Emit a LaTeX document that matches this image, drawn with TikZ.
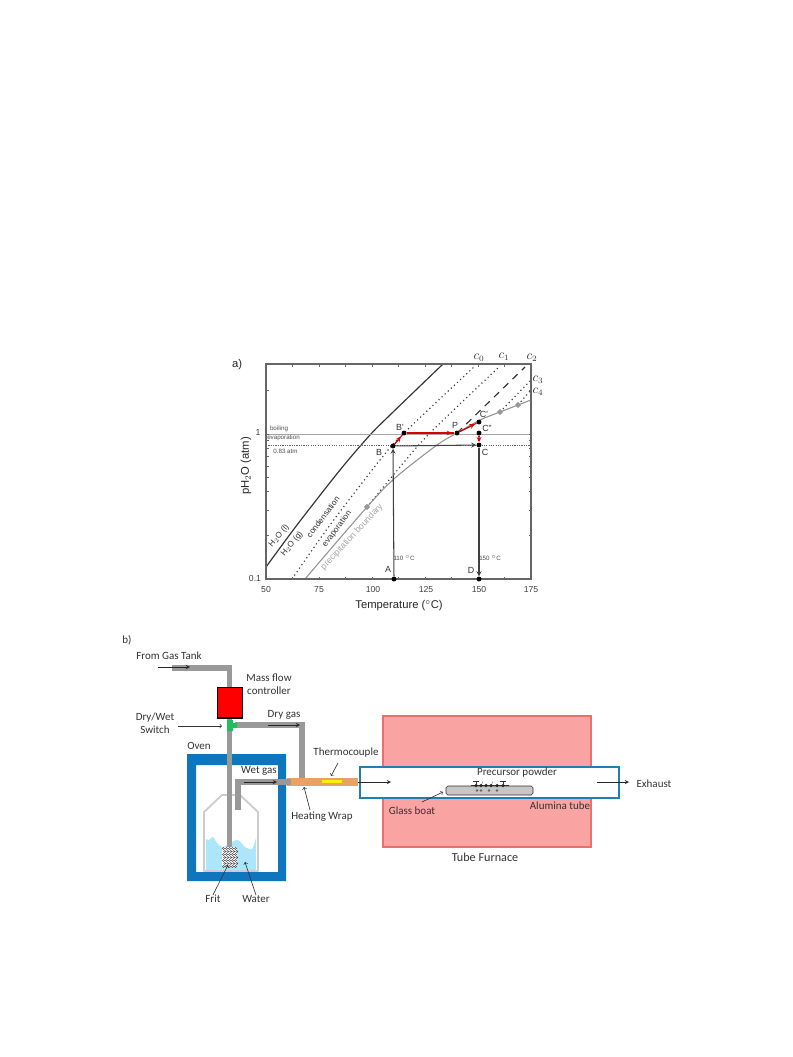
\documentclass[tikz,border=0pt]{standalone}
\usepackage{fontspec}
\setmainfont{Liberation Sans}
\newfontfamily\calibri{Carlito}
\usetikzlibrary{calc,shapes.geometric}
\definecolor{pipegray}{HTML}{999999}
\definecolor{framegray}{HTML}{666666}
\definecolor{ovenblue}{HTML}{0F75BC}
\definecolor{tubeblue}{HTML}{1F7FB0}
\definecolor{furnacefill}{HTML}{F9A3A3}
\definecolor{furnaceline}{HTML}{EE6E6E}
\definecolor{waterblue}{HTML}{ADE6FB}
\definecolor{wrapcolor}{HTML}{E8A266}
\definecolor{switchgreen}{HTML}{1FBF60}
\tikzset{
  dotpt/.style={circle, fill=black, inner sep=0pt, minimum size=4.2pt},
  graypt/.style={diamond, fill=gray!80, inner sep=0pt, minimum size=5.5pt},
  redline/.style={draw=red!85!black, line width=0.9pt},
  blackline/.style={draw=black!75, line width=0.9pt, ->, >=stealth},
  dotline/.style={line width=1pt, dash pattern=on 1pt off 2.6pt, black!75},
  pipe/.style={draw=pipegray, line width=4.4pt},
  ann/.style={font=\calibri\fontsize{9.4}{11}\selectfont, black!80, align=center, inner sep=0pt},
  chartlab/.style={font=\fontsize{5.3}{7}\selectfont, black!70, inner sep=0pt},
  ptlab/.style={font=\fontsize{7.6}{9}\selectfont, black!80, inner sep=0pt},
  ticklab/.style={font=\fontsize{7.4}{9}\selectfont, black!75, inner sep=0pt},
  titlelab/.style={font=\fontsize{9.6}{11}\selectfont, black!85, inner sep=0pt},
  curvelab/.style={font=\fontsize{7}{9}\selectfont, black!80, inner sep=0pt, rotate=53},
  callout/.style={->, draw=black!80, line width=0.55pt},
  flow/.style={->, >=stealth, draw=black!85, line width=0.6pt}
}
\begin{document}
\begin{tikzpicture}[x=0.03cm, y=-0.03cm]
  \def\Xl{266};
  \def\Xr{531};
  \def\Yt{364};
  \def\Yb{579};
  \def\Yone{434};
  \def\Dec{145};
  \useasboundingbox (0,0) rectangle (793,1057);
  \fill[white] (0,0) rectangle (793,1057);

  % chart curves
  \draw[line width=1pt, black!80] plot[smooth] coordinates {(\Xl,567) (297,525) (340,470) (370,435) (390,415) (443,\Yt)};
  \draw[dotline] plot[smooth] coordinates {(292,\Yb) (330,525) (380,460) (404,433) (475,366)};
  \draw[dotline] plot[smooth] coordinates {(367,507) (400,467) (430,433) (500,366)};
  \draw[line width=1pt, black!80, dash pattern=on 6pt off 5pt] (457,433) -- (525,367);
  \draw[dotline] (500,412) -- (530,381);
  \draw[dotline] (518,405) -- (530,391);
  \draw[gray!85, line width=0.9pt] plot[smooth] coordinates {(305,\Yb) (367,507) (395,478) (437,445) (457,433) (480,420) (500,412) (518,405) (\Xr,400)};

  % horizontal levels
  \draw[gray!70, line width=0.6pt] (\Xl,\Yone) -- (\Xr,\Yone);
  \draw[black!60, line width=0.4pt, dash pattern=on 1pt off 1pt] (\Xl,445) -- (\Xr,445);

  % frame and ticks
  \draw[framegray, line width=0.9pt] (\Xl,\Yt) rectangle (\Xr,\Yb);
  \foreach \t in {1,...,9} {
    \draw[framegray, line width=0.5pt] ({\Xl+\t*26.5},\Yb) -- ++(0,-2.5);
    \draw[framegray, line width=0.5pt] ({\Xl+\t*26.5},\Yt) -- ++(0,2.5);
  }
  \foreach \v in {0.2,0.3,0.4,0.5,0.6,0.7,0.8,0.9,1,2} {
    \pgfmathsetmacro{\Yv}{\Yone-\Dec*log10(\v)}
    \draw[framegray, line width=0.5pt] (\Xl,\Yv) -- ++(2.5,0);
    \draw[framegray, line width=0.5pt] (\Xr,\Yv) -- ++(-2.5,0);
  }

  % gray points on the boundary
  \node[graypt] (g1) at (367,507) {};
  \node[graypt] (g2) at (500,412) {};
  \node[graypt] (g3) at (518,405) {};

  % state points
  \node[dotpt] (A) at (394,\Yb) {};
  \node[dotpt] (D) at (479,\Yb) {};
  \node[dotpt] (B) at (393,446) {};
  \node[dotpt] (C) at (479,445) {};
  \node[dotpt] (Bp) at (404,433) {};
  \node[dotpt] (P) at (457,433) {};
  \node[dotpt] (Cp) at (479,422) {};
  \node[dotpt] (Cpp) at (479,433) {};

  % arrows
  \draw[blackline] (A) -- (B);
  \draw[blackline] (B) -- (C);
  \draw[blackline] (C) -- (D);
  \draw[redline] (B) -- (Bp);
  \draw[redline, ->, >=stealth] (B) -- ($(B)!0.7!(Bp)$);
  \draw[redline] (Bp) -- (P);
  \draw[redline, ->, >=stealth] (Bp) -- ($(Bp)!0.9!(P)$);
  \draw[redline] (P) -- (Cp);
  \draw[redline, ->, >=stealth] (P) -- ($(P)!0.8!(Cp)$);
  \draw[redline, densely dotted] (Cpp) -- (C);
  \draw[redline, ->, >=stealth] (Cpp) -- ($(Cpp)!0.75!(C)$);

  % chart labels
  \node[titlelab] (parta) at (237,365) {a)};
  \node[titlelab, rotate=90] (ylab) at (246,466) {pH$_2$O (atm)};
  \node[titlelab] (xlab) at (399,606) {Temperature ($^{\circ}$C)};
  \foreach \x/\v in {266/50,319/75,373/100,426/125,479/150,531/175}
    \node[ticklab] (x\v) at (\x,590) {\v};
  \node[ticklab] (y1) at (258,433) {1};
  \node[ticklab] (y01) at (255,579) {0.1};
  \node[chartlab] (boil) at (279,429) {boiling};
  \node[chartlab] (evap) at (283.5,438) {evaporation};
  \node[chartlab] (atm) at (285.5,451) {0.83 atm};
  \node[chartlab] (t110) at (404,558) {110 $^{\circ}$C};
  \node[chartlab] (t150) at (490,558) {150 $^{\circ}$C};
  \node[ptlab] (lA) at (388,569) {A};
  \node[ptlab] (lD) at (471,570) {D};
  \node[ptlab] (lB) at (379,452) {B};
  \node[ptlab] (lC) at (485,452) {C};
  \node[ptlab] (lBp) at (400,427) {B'};
  \node[ptlab] (lP) at (455,425) {P};
  \node[ptlab] (lCp) at (484,414) {C'};
  \node[ptlab] (lCpp) at (487,428) {C''};
  \node[curvelab, rotate=-3] (ll) at (279,536) {H$_2$O (l)};
  \node[curvelab, rotate=-3] (lg) at (292,544) {H$_2$O (g)};
  \node[curvelab] (lcond) at (323,517) {condensation};
  \node[curvelab] (levap) at (337,529) {evaporation};
  \node[curvelab, rotate=-6, gray!70, font=\fontsize{7.5}{9}\selectfont] (lprec) at (352,537) {precipitation boundary};
  \foreach \x/\y/\i in {479/358/0,504/357/1,532/358/2,538/380/3,538/392/4}
    \node[ptlab, font=\fontsize{10.5}{11}\selectfont] (c\i) at (\x,\y) {$c_{\i}$};

  % furnace and tube
  \draw[fill=furnacefill, draw=furnaceline, line width=1pt] (383,716) rectangle (591,847);
  \draw[fill=white, draw=tubeblue, line width=1pt] (360,767) rectangle (619,798);

  % oven
  \fill[white] (187,754) rectangle (286,881);
  \fill[ovenblue, even odd rule] (187,754) rectangle (286,881) (196,765) rectangle (278,872);

  % bottle with water and frit
  \fill[waterblue] plot[smooth] coordinates {(206,839) (209,840) (213,837) (217,843) (223,847) (230,843) (238,840) (245,847) (252,849) (256,838)} -- (256,870) -- (206,870) -- cycle;
  \draw[gray!40, line width=1.5pt, line join=round] (204,871) -- (204,812) -- (222,795) -- (240,795) -- (258,812) -- (258,871) -- cycle;

  % pipes
  \draw[pipe] (172,668) -- (229.5,668) -- (229.5,690);
  \draw[pipe] (229.5,718) -- (229.5,848);
  \draw[pipe] (235,725) -- (302,725) -- (302,778);
  \draw[pipe] (238,810) -- (238,782) -- (287,782);
  \node[draw=black, line width=0.9pt, fill=red, inner sep=0pt, minimum width=22.1pt, minimum height=26.4pt] (mfc) at (230,702.5) {};
  \fill[switchgreen] (227,720) rectangle (233,731) (233,723) rectangle (237,728);
  \fill[white, rounded corners=2pt] (222,847) rectangle (237,867);
  \foreach \i in {0,...,4} \foreach \j in {0,...,6} {
    \draw[black!70, line width=0.35pt] ({223.5+\i*3+mod(\j,2)*1.2},{848.5+\j*3}) circle (1.05);
  }

  % heating wrap
  \fill[wrapcolor] (287,778) rectangle (358,785.5);
  \fill[pipegray] (287,779) rectangle (291,785);
  \fill[yellow] (322,780) rectangle (342,783);

  % glass boat and powder
  \draw[fill=gray!45, draw=black!80, line width=0.5pt, rounded corners=1.5pt] (446,786) -- (533,786) -- (533,795) -- (446,795) -- cycle;
  \draw[black!80, line width=0.4pt] (471,785.5) -- (509,785.5);
  \foreach \x in {476,481,486,491,497,503} {
    \node[circle, fill=black!85, inner sep=0pt, minimum size=3pt] (pw\x) at (\x,785.5) {};
  }
  \foreach \x in {476,503} {
    \coordinate (up\x) at (\x,780.5);
    \draw[black!80, line width=0.4pt, -|] (pw\x) -- (up\x);
  }
  \foreach \x in {481,491} {
    \coordinate (up\x) at (\x+2,781.5);
    \draw[black!60, line width=0.3pt] (up\x) -- (pw\x);
  }
  \foreach \x in {477,481,489,497} {
    \node[circle, fill=black!60, inner sep=0pt, minimum size=2.2pt] (pl\x) at (\x,790.5) {};
  }

  % labels
  \node[ann] (partb) at (127,640) {b)};
  \node[ann] (tank) at (169,656) {From Gas Tank};
  \node[ann] (lmfc) at (269,684.5) {Mass flow\\controller};
  \node[ann] (lswitch) at (155,723.5) {Dry/Wet\\Switch};
  \node[ann] (ldry) at (284,714.5) {Dry gas};
  \node[ann] (loven) at (199,746) {Oven};
  \node[ann] (lwet) at (259,771) {Wet gas};
  \node[ann] (ltherm) at (346,753) {Thermocouple};
  \node[ann] (lwrap) at (322,817) {Heating Wrap};
  \node[ann] (lfrit) at (213,899) {Frit};
  \node[ann] (lwater) at (256,899) {Water};
  \node[ann] (lprecur) at (517,773) {Precursor powder};
  \node[ann] (lboat) at (412,811) {Glass boat};
  \node[ann] (lalu) at (560,806) {Alumina tube};
  \node[ann] (lexh) at (654,783.5) {Exhaust};
  \node[ann, font=\calibri\fontsize{10.4}{12}\selectfont] (lfurn) at (485,857) {Tube Furnace};

  % connector ends
  \coordinate (tankin) at (158,667);
  \coordinate (tankout) at (190,667);
  \coordinate (switchin) at (178,726);
  \coordinate (switchout) at (222,726);
  \coordinate (dryin) at (268,725);
  \coordinate (dryout) at (300,725);
  \coordinate (wetin) at (244,782);
  \coordinate (wetout) at (277,782);
  \coordinate (tubein) at (358,782);
  \coordinate (tubeout) at (391,782);
  \coordinate (exhin) at (597,782);
  \coordinate (exhout) at (629,782);
  \coordinate (fritend) at (228,865);
  \coordinate (waterend) at (245,862);
  \coordinate (wrapend) at (304,787);
  \coordinate (thermstart) at (338,763);
  \coordinate (thermend) at (331,776);
  \coordinate (boatstart) at (422,802);
  \coordinate (boatend) at (443,792);
  \coordinate (wrapstart) at (310,810);

  % flow arrows
  \draw[flow] (tankin) -- (tankout);
  \draw[flow] (dryin) -- (dryout);
  \draw[flow] (wetin) -- (wetout);
  \draw[flow] (tubein) -- (tubeout);
  \draw[flow] (exhin) -- (exhout);

  % callouts
  \draw[callout] (switchin) -- (switchout);
  \draw[callout] (lfrit.north) -- (fritend);
  \draw[callout] (lwater.north) -- (waterend);
  \draw[callout] (wrapstart) -- (wrapend);
  \draw[callout] (thermstart) -- (thermend);
  \draw[callout] (boatstart) -- (boatend);
\end{tikzpicture}
\end{document}
